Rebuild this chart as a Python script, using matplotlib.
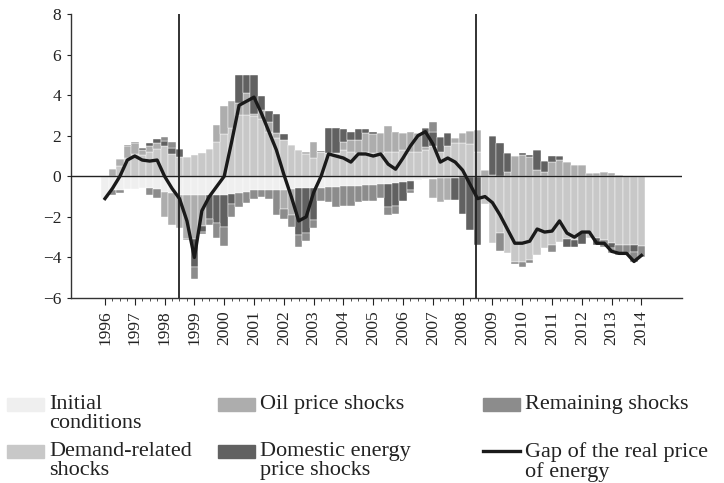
import numpy as np
import matplotlib.pyplot as plt
from matplotlib.patches import Rectangle
from matplotlib.lines import Line2D

plt.rcParams['font.family'] = ['Liberation Serif', 'DejaVu Serif']

# quarterly observations 1996Q1 .. 2014Q1
quarters = 1996 + np.arange(73) / 4
years = list(range(1996, 2015))
breaks = [1998.48, 2008.45]

initial = [-1.05, -0.7, -0.7, -0.65, -0.65, -0.6, -0.6, -0.65,
           -0.75, -0.8, -0.9, -0.9, -0.9, -0.9, -0.9, -0.9,
           -0.9, -0.85, -0.8, -0.75, -0.7, -0.7, -0.7, -0.7,
           -0.7, -0.65, -0.6, -0.6, -0.6, -0.6, -0.55, -0.55,
           -0.5, -0.5, -0.5, -0.45, -0.45, -0.4, -0.4, -0.35,
           -0.3, -0.25, -0.2, -0.15, -0.12, -0.1, -0.1, -0.08,
           -0.05, -0.05, -0.05, -0.05] + [-0.03] * 21

demand = [0, 0, 0.5, 0.9, 1.1, 1.05, 1.2, 1.35,
          1.5, 1.1, 0.95, 0.95, 1.06, 1.14, 1.34, 1.7,
          2.1, 2.4, 3.0, 3.0, 2.95, 2.8, 2.2, 1.9,
          1.8, 1.52, 1.3, 1.1, 0.9, 1.2, 1.15, 1.15,
          1.3, 1.22, 1.15, 1.22, 1.14, 1.14, 1.22, 1.22,
          1.3, 1.22, 1.2, 1.3, 1.47, 1.22, 1.47, 1.63,
          1.63, 1.6, 1.19, -1.3, -3.25, -2.79, -3.77, -4.2,
          -4.2, -4.1, -3.85, -3.5, -3.38, -3.2, -3.05, -3.1,
          -2.75, -3.03, -3.03, -3.1, -3.27, -3.35, -3.35, -3.35,
          -3.43]

oil = [0, 0.35, 0.35, 0.6, 0.55, 0.25, 0.3, 0.3,
       -1.25, -1.6, -1.65, -2.2, -2.2, -1.55, 0, 0.85,
       1.35, 1.3, 0.6, 1.1, 0.1, 0.45, 0.5, 0.25,
       -0.9, -1.25, 0, 0.1, 0.8, 0, 0, 0,
       0.4, 0.55, 0.65, 0.9, 0.95, 1.0, 1.27, 0.98,
       0.83, 0.98, 0.93, 0.15, -0.95, -1.15, -1.05, 0.25,
       0.5, 0.64, 1.11, 0.33, 0.08, 0, 0.2, 0.98,
       1.05, 0.95, 0.3, 0.2, 0.7, 0.82, 0.7, 0.54,
       0.56, 0.16, 0.16, 0.23, 0.16, 0.08, 0.03, 0,
       0]

domestic = [0, 0, 0.02, 0.05, 0.05, 0.1, 0.15, 0.2,
            0.25, 0.3, 0.4, 0, -1.35, -0.3, -1.2, -1.4,
            -1.6, -0.5, 1.4, 0.9, 1.95, 0.7, 0.5, 0.9,
            0.3, 0, -2.3, -2.2, -1.55, 0.05, 1.25, 1.25,
            0.65, 0.4, 0.55, 0.2, 0.1, 0, -1.1, -1.1,
            -0.9, -0.45, 0, 0.95, 0.7, 0.74, 0.66, -1.1,
            -1.8, -2.58, -3.35, 0, 1.89, 1.64, 0.95, 0,
            0.1, 0.12, 1.0, 0.57, 0.28, 0.18, -0.41, -0.38,
            -0.55, 0, -0.33, 0, -0.25, 0, 0, -0.33,
            0]

remaining = [0, -0.2, -0.1, 0, 0, 0, -0.3, -0.4,
             0.2, 0.3, 0, -0.05, -0.6, -0.1, -0.3, -0.75,
             -0.95, -0.65, -0.7, -0.55, -0.4, -0.3, -0.4, -1.2,
             -0.5, -0.6, -0.6, -0.4, -0.4, -0.6, -0.7, -0.95,
             -0.95, -0.95, -0.75, -0.75, -0.75, -0.65, -0.4, -0.4,
             0, -0.1, 0, 0, 0.5, 0, 0, 0,
             0, 0, 0, 0, 0, -0.85, 0, -0.1,
             -0.25, -0.14, 0, 0, -0.3, 0, 0, 0,
             0, 0, 0, -0.35, -0.25, -0.5, -0.45, -0.5,
             -0.5]

gap = [-1.1, -0.6, 0.0, 0.8, 1.0, 0.8, 0.75, 0.8,
       0.0, -0.6, -1.1, -2.2, -4.0, -1.7, -1.0, -0.5,
       0.0, 1.7, 3.5, 3.7, 3.9, 3.1, 2.2, 1.3,
       0.1, -1.0, -2.2, -2.0, -0.8, 0.0, 1.1, 1.0,
       0.9, 0.7, 1.1, 1.1, 1.0, 1.1, 0.6, 0.35,
       0.9, 1.5, 2.0, 2.2, 1.6, 0.7, 0.9, 0.7,
       0.3, -0.4, -1.1, -1.0, -1.3, -1.9, -2.6, -3.3,
       -3.3, -3.2, -2.6, -2.75, -2.7, -2.2, -2.8, -3.0,
       -2.75, -2.75, -3.3, -3.3, -3.7, -3.8, -3.8, -4.2,
       -3.9]

series = [
    ("Initial\nconditions", initial, "#efefef"),
    ("Demand-related\nshocks", demand, "#c8c8c8"),
    ("Oil price shocks", oil, "#adadad"),
    ("Domestic energy\nprice shocks", domestic, "#616161"),
    ("Remaining shocks", remaining, "#8c8c8c"),
]

W, H = 724, 483
fig = plt.figure(figsize=(W / 100, H / 100), dpi=100)
ax = fig.add_axes([71 / W, 1 - 298 / H, (682 - 71) / W, (298 - 14) / H])

pos_bottom = np.zeros(len(quarters))
neg_bottom = np.zeros(len(quarters))
for label, vals, col in series:
    v = np.array(vals, dtype=float)
    b = np.where(v >= 0, pos_bottom, neg_bottom)
    ax.bar(quarters, v, width=0.25, bottom=b, color=col,
           edgecolor='white', linewidth=0.3, zorder=2)
    pos_bottom += np.clip(v, 0, None)
    neg_bottom += np.clip(v, None, 0)

ax.plot(quarters, gap, color='#1a1a1a', lw=2.4, zorder=4,
        solid_joinstyle='round')
ax.axhline(0, color='#222222', lw=1.0, zorder=3)
for b in breaks:
    ax.axvline(b, color='#222222', lw=1.3, zorder=3)

ax.set_xlim(1994.86, 2015.36)
ax.set_ylim(-6, 8)
for s in ['top', 'right']:
    ax.spines[s].set_visible(False)
for s in ['left', 'bottom']:
    ax.spines[s].set_color('#333333')
    ax.spines[s].set_linewidth(1.0)

ax.set_xticks(years)
ax.set_xticklabels([str(y) for y in years], rotation=90)
ax.set_xticks(quarters, minor=True)
ax.set_yticks(range(-6, 9, 2))
ax.tick_params(axis='x', which='major', length=5, width=0.8,
               labelsize=12.5, colors='#222222', pad=4)
ax.tick_params(axis='x', which='minor', length=2.5, width=0.6,
               colors='#333333')
ax.tick_params(axis='y', length=3, width=0.8, labelsize=12.5,
               colors='#222222', pad=4)


# legend drawn by hand: handle next to first line of each label
def fx(x):
    return x / W


def fy(y):
    return 1 - y / H


cols = [7, 218, 483]
rows = [404, 451]
slots = [(0, 0), (0, 1), (1, 0), (1, 1), (2, 0)]
fs = 16
for (label, vals, col), (c, r) in zip(series, slots):
    x0, yc = cols[c], rows[r]
    fig.patches.append(Rectangle((fx(x0), fy(yc + 6.5)), 37 / W, 13 / H,
                                 transform=fig.transFigure, color=col))
    fig.text(fx(x0 + 42), fy(yc - 9), label, fontsize=fs, va='top',
             ha='left', linespacing=1.0, color='#222222')

x0, yc = cols[2], rows[1]
fig.lines.append(Line2D([fx(x0), fx(x0 + 37)], [fy(yc), fy(yc)],
                        transform=fig.transFigure, color='#1a1a1a', lw=2.4))
fig.text(fx(x0 + 42), fy(yc - 9), "Gap of the real price\nof energy",
         fontsize=fs, va='top', ha='left', linespacing=1.0,
         color='#222222')

fig.savefig('out.png', dpi=100)
